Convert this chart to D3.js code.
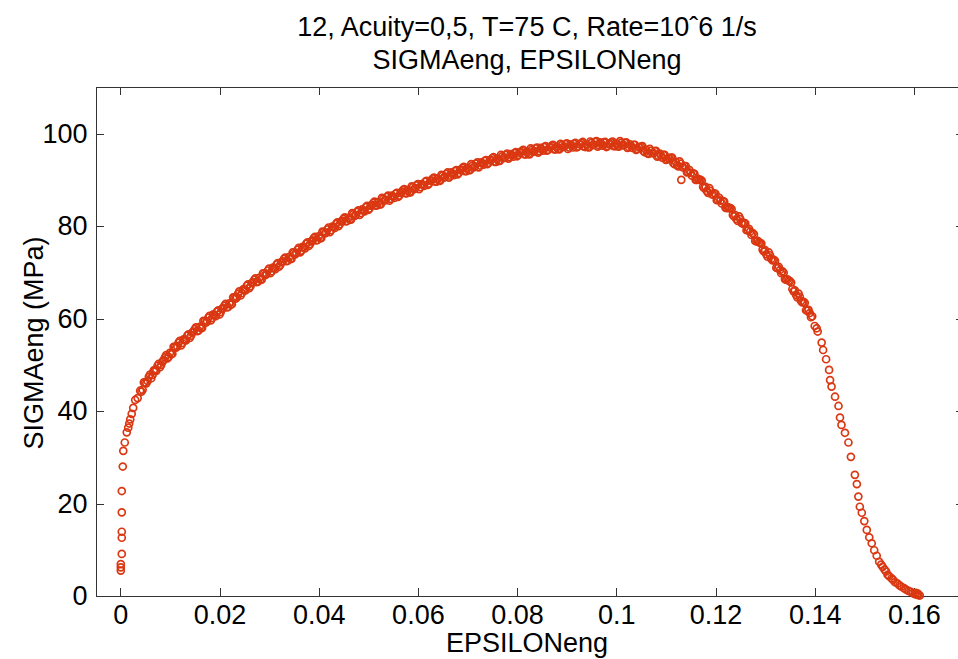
<!DOCTYPE html>
<html>
<head>
<meta charset="utf-8">
<script src="https://d3js.org/d3.v7.min.js"></script>
<style>
body { margin: 0; background: #fff; }
text { font-family: 'Liberation Sans', Arial, sans-serif; fill: #000; }
.axis path, .axis line { stroke: #333; shape-rendering: crispEdges; }
</style>
</head>
<body>
<div id="chart"></div>
<script>
// strain (EPSILONeng) / stress (SIGMAeng, MPa)
var onsetPoints = [
  [0.0001, 5.5], [0.0001, 6.2], [0.0001, 6.9], [0.0003, 9.1], [0.0003, 12.6], [0.0003, 13.9],
  [0.0003, 18.1], [0.0003, 22.7], [0.0005, 28.0], [0.0006, 31.4], [0.0009, 33.2], [0.0013, 35.4],
  [0.0016, 36.4], [0.0018, 37.3], [0.0020, 38.2], [0.0023, 39.4], [0.0026, 40.7]
];

var hardeningPoints = [
  [0.0030, 42.4], [0.0035, 42.8], [0.0040, 44.4], [0.0045, 44.6], [0.0050, 46.2], [0.0055, 46.5],
  [0.0060, 47.9], [0.0065, 47.8], [0.0070, 48.8], [0.0075, 49.8], [0.0080, 49.5], [0.0085, 50.7],
  [0.0090, 51.6], [0.0095, 51.4], [0.0100, 52.6], [0.0105, 52.4], [0.0110, 53.9], [0.0115, 54.0],
  [0.0120, 55.2], [0.0125, 54.7], [0.0130, 55.4], [0.0135, 56.3], [0.0140, 55.8], [0.0145, 57.0],
  [0.0150, 57.7], [0.0155, 57.3], [0.0160, 58.2], [0.0165, 58.0], [0.0170, 59.4], [0.0175, 59.4],
  [0.0180, 60.6], [0.0185, 60.1], [0.0190, 60.7], [0.0195, 61.5], [0.0200, 60.9], [0.0205, 62.1],
  [0.0210, 62.8], [0.0215, 62.4], [0.0220, 63.3], [0.0225, 63.1], [0.0230, 64.5], [0.0235, 64.6],
  [0.0240, 65.9], [0.0245, 65.5], [0.0250, 66.2], [0.0255, 67.1], [0.0260, 66.6], [0.0265, 67.7],
  [0.0270, 68.4], [0.0275, 67.9], [0.0280, 68.8], [0.0285, 68.4], [0.0290, 69.7], [0.0295, 69.7],
  [0.0300, 70.8], [0.0305, 70.2], [0.0310, 70.9], [0.0315, 71.7], [0.0320, 71.2], [0.0325, 72.2],
  [0.0330, 72.9], [0.0335, 72.4], [0.0340, 73.3], [0.0345, 72.9], [0.0350, 74.2], [0.0355, 74.2],
  [0.0360, 75.3], [0.0365, 74.7], [0.0370, 75.4], [0.0375, 76.2], [0.0380, 75.7], [0.0385, 76.7],
  [0.0390, 77.4], [0.0395, 76.9], [0.0400, 77.8], [0.0405, 77.4], [0.0410, 78.7], [0.0415, 78.6],
  [0.0420, 79.7], [0.0425, 79.1], [0.0430, 79.8], [0.0435, 80.5], [0.0440, 80.0], [0.0445, 81.0],
  [0.0450, 81.6], [0.0455, 81.0], [0.0460, 81.8], [0.0465, 81.4], [0.0470, 82.6], [0.0475, 82.4],
  [0.0480, 83.4], [0.0485, 82.8], [0.0490, 83.4], [0.0495, 84.1], [0.0500, 83.5], [0.0505, 84.4],
  [0.0510, 85.0], [0.0515, 84.4], [0.0520, 85.2], [0.0525, 84.7], [0.0530, 85.9], [0.0535, 85.7],
  [0.0540, 86.6], [0.0545, 85.9], [0.0550, 86.4], [0.0555, 87.0], [0.0560, 86.3], [0.0565, 87.2],
  [0.0570, 87.8], [0.0575, 87.1], [0.0580, 87.8], [0.0585, 87.3], [0.0590, 88.4], [0.0595, 88.2],
  [0.0600, 89.1], [0.0605, 88.4], [0.0610, 88.9], [0.0615, 89.6], [0.0620, 88.9], [0.0625, 89.8],
  [0.0630, 90.3], [0.0635, 89.6], [0.0640, 90.3], [0.0645, 89.8], [0.0650, 90.9], [0.0655, 90.7],
  [0.0660, 91.6], [0.0665, 90.9], [0.0670, 91.3], [0.0675, 91.9], [0.0680, 91.2], [0.0685, 92.1],
  [0.0690, 92.6], [0.0695, 91.9], [0.0700, 92.6], [0.0705, 92.1], [0.0710, 93.1], [0.0715, 92.9],
  [0.0720, 93.8], [0.0725, 93.1], [0.0730, 93.6], [0.0735, 94.1], [0.0740, 93.4], [0.0745, 94.2],
  [0.0750, 94.7], [0.0755, 93.9], [0.0760, 94.6], [0.0765, 94.1], [0.0770, 95.1], [0.0775, 94.8],
  [0.0780, 95.7], [0.0785, 94.9], [0.0790, 95.3], [0.0795, 95.8], [0.0800, 95.1], [0.0805, 95.9],
  [0.0810, 96.3], [0.0815, 95.5], [0.0820, 96.1], [0.0825, 95.5], [0.0830, 96.5], [0.0835, 96.2],
  [0.0840, 97.0], [0.0845, 96.2], [0.0850, 96.6], [0.0855, 97.1], [0.0860, 96.3], [0.0865, 97.0],
  [0.0870, 97.4], [0.0875, 96.6], [0.0880, 97.2], [0.0885, 96.6], [0.0890, 97.5], [0.0895, 97.2],
  [0.0900, 97.9], [0.0905, 97.0], [0.0910, 97.4], [0.0915, 97.8], [0.0920, 97.0], [0.0925, 97.7],
  [0.0930, 98.0], [0.0935, 97.2], [0.0940, 97.7], [0.0945, 97.0], [0.0950, 98.0], [0.0955, 97.6],
  [0.0960, 98.4], [0.0965, 97.5], [0.0970, 97.8], [0.0975, 98.1], [0.0980, 97.1], [0.0985, 97.7],
  [0.0990, 98.1], [0.0995, 97.3], [0.1000, 97.9], [0.1005, 97.2], [0.1010, 98.0], [0.1015, 97.5],
  [0.1020, 98.1], [0.1025, 97.1], [0.1030, 97.3], [0.1035, 97.6], [0.1040, 96.5], [0.1045, 97.1]
];

// readings that sit between the ones above and fill out the thick band
var interleavedPoints = [
  [0.00425, 44.2], [0.00475, 46.2], [0.00525, 46.0], [0.00575, 47.4], [0.00625, 47.1], [0.00675, 48.8],
  [0.00725, 48.7], [0.00775, 50.2], [0.00825, 50.0], [0.00875, 51.0], [0.00925, 52.1], [0.00975, 51.7],
  [0.01025, 52.3], [0.01075, 53.9], [0.01125, 53.7], [0.01175, 54.8], [0.01225, 54.2], [0.01275, 55.5],
  [0.01325, 55.3], [0.01375, 56.6], [0.01425, 56.3], [0.01475, 57.2], [0.01525, 58.1], [0.01575, 57.4],
  [0.01625, 57.9], [0.01675, 59.5], [0.01725, 59.1], [0.01775, 60.2], [0.01825, 59.6], [0.01875, 60.9],
  [0.01925, 60.5], [0.01975, 61.8], [0.02025, 61.4], [0.02075, 62.3], [0.02125, 63.2], [0.02175, 62.5],
  [0.02225, 63.0], [0.02275, 64.6], [0.02325, 64.3], [0.02375, 65.4], [0.02425, 65.0], [0.02475, 66.3],
  [0.02525, 66.1], [0.02575, 67.4], [0.02625, 67.0], [0.02675, 67.9], [0.02725, 68.7], [0.02775, 68.0],
  [0.02825, 68.4], [0.02875, 69.8], [0.02925, 69.4], [0.02975, 70.4], [0.03025, 69.8], [0.03075, 71.0],
  [0.03125, 70.7], [0.03175, 72.0], [0.03225, 71.6], [0.03275, 72.4], [0.03325, 73.2], [0.03375, 72.5],
  [0.03425, 72.9], [0.03475, 74.3], [0.03525, 73.9], [0.03575, 74.9], [0.03625, 74.3], [0.03675, 75.5],
  [0.03725, 75.2], [0.03775, 76.5], [0.03825, 76.1], [0.03875, 76.9], [0.03925, 77.7], [0.03975, 77.0],
  [0.04025, 77.4], [0.04075, 78.8], [0.04125, 78.4], [0.04175, 79.3], [0.04225, 78.7], [0.04275, 79.9],
  [0.04325, 79.6], [0.04375, 80.8], [0.04425, 80.4], [0.04475, 81.2], [0.04525, 81.9], [0.04575, 81.1],
  [0.04625, 81.4], [0.04675, 82.8], [0.04725, 82.2], [0.04775, 83.1], [0.04825, 82.4], [0.04875, 83.6],
  [0.04925, 83.2], [0.04975, 84.4], [0.05025, 83.8], [0.05075, 84.6], [0.05125, 85.3], [0.05175, 84.5],
  [0.05225, 84.7], [0.05275, 86.1], [0.05325, 85.5], [0.05375, 86.3], [0.05425, 85.5], [0.05475, 86.6],
  [0.05525, 86.1], [0.05575, 87.2], [0.05625, 86.6], [0.05675, 87.4], [0.05725, 88.0], [0.05775, 87.1],
  [0.05825, 87.3], [0.05875, 88.6], [0.05925, 88.0], [0.05975, 88.8], [0.06025, 88.0], [0.06075, 89.1],
  [0.06125, 88.7], [0.06175, 89.8], [0.06225, 89.2], [0.06275, 89.9], [0.06325, 90.5], [0.06375, 89.6],
  [0.06425, 89.8], [0.06475, 91.1], [0.06525, 90.5], [0.06575, 91.3], [0.06625, 90.5], [0.06675, 91.6],
  [0.06725, 91.0], [0.06775, 92.1], [0.06825, 91.5], [0.06875, 92.2], [0.06925, 92.8], [0.06975, 91.9],
  [0.07025, 92.1], [0.07075, 93.4], [0.07125, 92.7], [0.07175, 93.5], [0.07225, 92.7], [0.07275, 93.8],
  [0.07325, 93.3], [0.07375, 94.3], [0.07425, 93.7], [0.07475, 94.3], [0.07525, 94.9], [0.07575, 93.9],
  [0.07625, 94.1], [0.07675, 95.4], [0.07725, 94.7], [0.07775, 95.4], [0.07825, 94.6], [0.07875, 95.6],
  [0.07925, 95.0], [0.07975, 96.0], [0.08025, 95.4], [0.08075, 96.0], [0.08125, 96.5], [0.08175, 95.5],
  [0.08225, 95.6], [0.08275, 96.8], [0.08325, 96.1], [0.08375, 96.8], [0.08425, 95.9], [0.08475, 96.9],
  [0.08525, 96.3], [0.08575, 97.3], [0.08625, 96.5], [0.08675, 97.1], [0.08725, 97.6], [0.08775, 96.6],
  [0.08825, 96.7], [0.08875, 97.8], [0.08925, 97.1], [0.08975, 97.7], [0.09025, 96.7], [0.09075, 97.7],
  [0.09125, 97.0], [0.09175, 98.0], [0.09225, 97.2], [0.09275, 97.7], [0.09325, 98.2], [0.09375, 97.1],
  [0.09425, 97.1], [0.09475, 98.3], [0.09525, 97.5], [0.09575, 98.2], [0.09625, 97.2], [0.09675, 98.1],
  [0.09725, 97.4], [0.09775, 98.2], [0.09825, 97.3], [0.09875, 97.8], [0.09925, 98.3], [0.09975, 97.3],
  [0.10025, 97.3], [0.10075, 98.4], [0.10125, 97.5], [0.10175, 98.0], [0.10225, 96.9], [0.10275, 97.7],
  [0.10325, 96.9], [0.10375, 97.6], [0.10425, 96.7], [0.10475, 97.0], [0.10525, 97.3], [0.10575, 96.0],
  [0.10625, 95.8], [0.10675, 96.7], [0.10725, 95.8], [0.10775, 96.2], [0.10825, 95.0], [0.10875, 95.7],
  [0.10925, 94.8], [0.10975, 95.4], [0.11025, 94.4], [0.11075, 94.6], [0.11125, 94.8], [0.11175, 93.4],
  [0.11225, 93.2], [0.11275, 94.0], [0.11325, 92.8], [0.11375, 93.0], [0.11425, 91.6], [0.11475, 92.1],
  [0.11525, 90.9], [0.11575, 91.3], [0.11625, 90.0], [0.11675, 90.0], [0.11725, 89.8], [0.11775, 88.2],
  [0.11825, 87.6], [0.11875, 88.2], [0.11925, 86.9], [0.11975, 87.1], [0.12025, 85.6], [0.12075, 86.1],
  [0.12125, 84.9], [0.12175, 85.3], [0.12225, 83.9], [0.12275, 83.9], [0.12325, 83.7], [0.12375, 82.1],
  [0.12425, 81.5], [0.12475, 82.1], [0.12525, 80.7], [0.12575, 80.7], [0.12625, 79.1], [0.12675, 79.4],
  [0.12725, 78.1], [0.12775, 78.2], [0.12825, 76.7], [0.12875, 76.5], [0.12925, 76.2], [0.12975, 74.5],
  [0.13025, 73.9], [0.13075, 74.3], [0.13125, 72.9], [0.13175, 72.7], [0.13225, 71.0], [0.13275, 71.2],
  [0.13325, 69.8], [0.13375, 69.9], [0.13425, 68.4], [0.13475, 68.2], [0.13525, 67.8], [0.13575, 65.9],
  [0.13625, 65.1], [0.13675, 65.4], [0.13725, 63.8], [0.13775, 63.6], [0.13825, 61.8], [0.13875, 61.9],
  [0.13925, 60.3]
];

var neckingPoints = [
  [0.1050, 97.2], [0.1055, 96.2], [0.1060, 96.5], [0.1065, 95.6], [0.1070, 96.3], [0.1075, 95.8],
  [0.1080, 96.3], [0.1085, 95.2], [0.1090, 95.3], [0.1095, 95.4], [0.1100, 94.3], [0.1105, 94.7],
  [0.1110, 94.8], [0.1115, 93.6], [0.1120, 93.9], [0.1125, 92.9], [0.1130, 93.5], [0.1131, 90.0],
  [0.1135, 92.7], [0.1140, 93.0], [0.1145, 91.7], [0.1150, 91.5], [0.1155, 91.4], [0.1160, 90.0],
  [0.1165, 90.2], [0.1170, 90.0], [0.1175, 88.5], [0.1180, 88.5], [0.1185, 87.2], [0.1190, 87.6],
  [0.1195, 86.8], [0.1200, 87.0], [0.1205, 85.7], [0.1210, 85.5], [0.1215, 85.4], [0.1220, 84.0],
  [0.1225, 84.1], [0.1230, 83.9], [0.1235, 82.4], [0.1240, 82.4], [0.1245, 81.1], [0.1250, 81.5],
  [0.1255, 80.5], [0.1260, 80.6], [0.1265, 79.1], [0.1270, 78.8], [0.1275, 78.5], [0.1280, 76.8],
  [0.1285, 76.8], [0.1290, 76.4], [0.1295, 74.9], [0.1300, 74.8], [0.1305, 73.4], [0.1310, 73.7],
  [0.1315, 72.6], [0.1320, 72.5], [0.1325, 70.9], [0.1330, 70.5], [0.1335, 70.2], [0.1340, 68.5],
  [0.1345, 68.5], [0.1350, 68.1], [0.1355, 66.4], [0.1360, 66.1], [0.1365, 64.6], [0.1370, 64.7],
  [0.1375, 63.5], [0.1380, 63.4], [0.1385, 61.7], [0.1390, 61.2], [0.1395, 60.5], [0.1400, 58.4],
  [0.1404, 57.9], [0.1406, 57.2], [0.1414, 54.8], [0.1417, 53.2], [0.1423, 51.2], [0.1429, 48.9],
  [0.1431, 46.7], [0.1434, 45.3], [0.1441, 43.1], [0.1448, 41.1], [0.1451, 38.6], [0.1454, 37.0],
  [0.1461, 35.3], [0.1468, 33.2], [0.1473, 30.1], [0.1481, 26.2], [0.1485, 24.2], [0.1488, 21.5],
  [0.1491, 19.3], [0.1495, 18.0], [0.1500, 16.2], [0.1505, 14.3], [0.1510, 12.7], [0.1515, 11.4],
  [0.1520, 9.9], [0.1525, 8.7], [0.1530, 7.4], [0.1534, 6.8], [0.1537, 6.3], [0.1541, 5.7],
  [0.1544, 5.3], [0.1547, 4.6], [0.1550, 4.3], [0.1555, 3.8], [0.1558, 3.5], [0.1562, 3.0],
  [0.1567, 2.7], [0.1571, 2.3], [0.1575, 2.0], [0.1580, 1.7], [0.1584, 1.4], [0.1589, 1.1],
  [0.1594, 0.9], [0.1598, 0.6], [0.1602, 0.4], [0.1604, 0.7], [0.1606, 0.3], [0.1608, 0.5],
  [0.1609, 0.2], [0.1612, 0.1]
];

var xTicks = [0, 0.02, 0.04, 0.06, 0.08, 0.1, 0.12, 0.14, 0.16],
    xTickLabels = ['0', '0.02', '0.04', '0.06', '0.08', '0.1', '0.12', '0.14', '0.16'],
    yTicks = [0, 20, 40, 60, 80, 100],
    yTickLabels = ['0', '20', '40', '60', '80', '100'];

var titleLines = ['12, Acuity=0,5, T=75 C, Rate=10\u02C66 1/s', 'SIGMAeng, EPSILONeng'];

var width = 958,
    height = 659,
    plot = {left: 95.5, right: 963.5, top: 87.4, bottom: 596},
    tickLen = 8,
    fontSize = '27px',
    markerColour = '#da3812';

var svg = d3.select('#chart').append('svg')
    .attr('width', width)
    .attr('height', height);

var xScale = d3.scaleLinear().domain([-0.005, 0.17]).range([plot.left, plot.right]),
    yScale = d3.scaleLinear().domain([0, 110]).range([plot.bottom, plot.top]);

// axes: MATLAB style box with inward ticks on every side
svg.append('g')
    .attr('class', 'axis')
    .attr('transform', 'translate(0,' + plot.bottom + ')')
    .call(d3.axisBottom(xScale)
        .tickValues(xTicks)
        .tickFormat(function(d, i) { return xTickLabels[i]; })
        .tickSize(-tickLen).tickSizeOuter(0).tickPadding(9));

svg.append('g')
    .attr('class', 'axis')
    .attr('transform', 'translate(0,' + plot.top + ')')
    .call(d3.axisTop(xScale).tickValues(xTicks).tickFormat('')
        .tickSize(-tickLen).tickSizeOuter(0));

svg.append('g')
    .attr('class', 'axis')
    .attr('transform', 'translate(' + plot.left + ',0)')
    .call(d3.axisLeft(yScale)
        .tickValues(yTicks)
        .tickFormat(function(d, i) { return yTickLabels[i]; })
        .tickSize(-tickLen).tickSizeOuter(0).tickPadding(8));

svg.append('g')
    .attr('class', 'axis')
    .attr('transform', 'translate(' + plot.right + ',0)')
    .call(d3.axisRight(yScale).tickValues(yTicks).tickFormat('')
        .tickSize(-tickLen).tickSizeOuter(0));

svg.selectAll('.axis text').style('font-size', fontSize);

// data markers (open circles)
svg.append('g')
    .selectAll('circle')
    .data(onsetPoints.concat(hardeningPoints, interleavedPoints, neckingPoints))
  .enter().append('circle')
    .attr('cx', function(d) { return xScale(d[0]); })
    .attr('cy', function(d) { return yScale(d[1]); })
    .attr('r', 3.5)
    .style('fill', 'none')
    .style('stroke', markerColour)
    .style('stroke-width', 1.7);

// titles and labels
svg.selectAll('.title')
    .data(titleLines)
  .enter().append('text')
    .attr('class', 'title')
    .attr('x', 527)
    .attr('y', function(d, i) { return 36 + i * 33; })
    .style('text-anchor', 'middle')
    .style('font-size', fontSize)
    .text(function(d) { return d; });

svg.append('text')
    .attr('x', 527)
    .attr('y', 652)
    .style('text-anchor', 'middle')
    .style('font-size', fontSize)
    .text('EPSILONeng');

svg.append('text')
    .attr('transform', 'translate(43,343) rotate(-90)')
    .style('text-anchor', 'middle')
    .style('font-size', fontSize)
    .text('SIGMAeng (MPa)');
</script>
</body>
</html>
